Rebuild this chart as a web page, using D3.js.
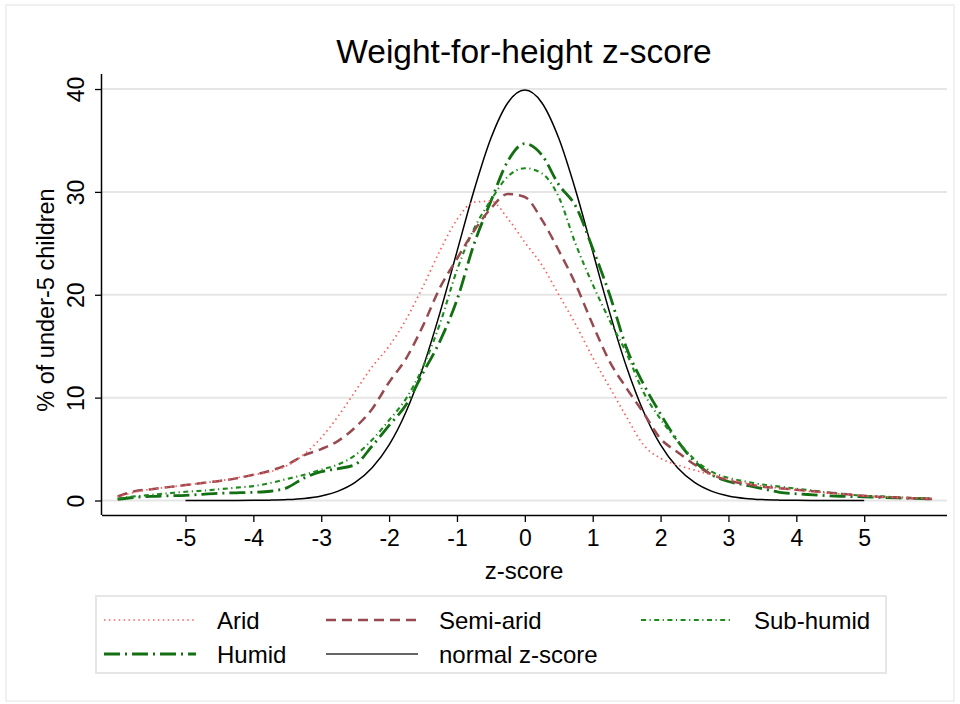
<!DOCTYPE html>
<html>
<head>
<meta charset="utf-8">
<script src="https://cdn.jsdelivr.net/npm/d3@7"></script>
<style>
  html, body { margin: 0; padding: 0; background: #fff; }
  svg { display: block; font-family: "Liberation Sans", Arial, Helvetica, sans-serif; }
</style>
</head>
<body>
<svg id="chart" width="960" height="704"></svg>
<script>
// ---------------- data ----------------
const zGrid = [-6, -5.75, -5.5, -5.25, -5, -4.75, -4.5, -4.25, -4, -3.75, -3.5, -3.25, -3, -2.75, -2.5, -2.25, -2, -1.75, -1.5, -1.25, -1, -0.75, -0.5, -0.25, 0, 0.25, 0.5, 0.75, 1, 1.25, 1.5, 1.75, 2, 2.25, 2.5, 2.75, 3, 3.25, 3.5, 3.75, 4, 4.25, 4.5, 4.75, 5, 5.25, 5.5, 5.75, 6];

const aridValues = [0.35, 0.8, 1.1, 1.3, 1.5, 1.7, 1.9, 2.2, 2.5, 2.8, 3.4, 4.5, 6.1, 8.2, 10.6, 13.0, 15.0, 17.6, 20.8, 24.3, 27.3, 29.0, 29.1, 27.4, 25.1, 22.9, 20.0, 17.1, 13.9, 11.0, 8.1, 5.4, 4.1, 3.45, 2.95, 2.5, 2.1, 1.7, 1.4, 1.2, 1.0, 0.85, 0.7, 0.6, 0.45, 0.35, 0.3, 0.25, 0.2];

const semiAridValues = [0.4, 0.9, 1.1, 1.3, 1.5, 1.7, 1.9, 2.15, 2.5, 2.9, 3.5, 4.4, 5.0, 5.8, 7.1, 8.9, 11.5, 13.8, 17.0, 20.7, 23.5, 26.2, 28.4, 29.8, 29.5, 27.3, 24.3, 21.0, 17.1, 13.5, 10.9, 8.5, 6.0, 4.7, 3.5, 2.55, 1.95, 1.6, 1.35, 1.2, 1.05, 0.9, 0.75, 0.6, 0.45, 0.35, 0.3, 0.2, 0.15];

const subHumidValues = [0.2, 0.4, 0.55, 0.7, 0.85, 0.95, 1.1, 1.25, 1.4, 1.7, 2.1, 2.5, 3.0, 3.5, 4.4, 5.9, 7.8, 9.9, 13.0, 17.2, 22.4, 26.4, 29.2, 31.5, 32.3, 31.8, 29.5, 24.9, 21.0, 17.5, 14.3, 10.5, 7.9, 5.8, 4.0, 2.8, 2.2, 1.85, 1.55, 1.35, 1.15, 0.95, 0.75, 0.6, 0.45, 0.4, 0.3, 0.25, 0.2];

const humidValues = [0.1, 0.3, 0.4, 0.45, 0.5, 0.6, 0.7, 0.75, 0.8, 0.9, 1.25, 2.2, 2.8, 3.1, 3.5, 5.3, 7.3, 9.3, 12.4, 15.5, 19.5, 24.9, 29.1, 33.0, 34.7, 33.6, 30.7, 28.6, 24.5, 20.0, 14.8, 11.3, 8.4, 5.8, 3.8, 2.5, 1.85, 1.5, 1.15, 0.8, 0.65, 0.55, 0.45, 0.4, 0.35, 0.3, 0.25, 0.2, 0.15];

const zNormal = [-5, -4.75, -4.5, -4.25, -4, -3.75, -3.5, -3.25, -3, -2.75, -2.5, -2.25, -2, -1.75, -1.5, -1.25, -1, -0.75, -0.5, -0.25, 0, 0.25, 0.5, 0.75, 1, 1.25, 1.5, 1.75, 2, 2.25, 2.5, 2.75, 3, 3.25, 3.5, 3.75, 4, 4.25, 4.5, 4.75, 5];
const normalValues = [0.0001, 0.0005, 0.002, 0.005, 0.013, 0.035, 0.087, 0.203, 0.443, 0.909, 1.753, 3.174, 5.399, 8.628, 12.952, 18.265, 24.197, 30.114, 35.207, 38.667, 39.894, 38.667, 35.207, 30.114, 24.197, 18.265, 12.952, 8.628, 5.399, 3.174, 1.753, 0.909, 0.443, 0.203, 0.087, 0.035, 0.013, 0.005, 0.002, 0.0005, 0.0001];

const xTickValues = [-5, -4, -3, -2, -1, 0, 1, 2, 3, 4, 5];
const yTickValues = [0, 10, 20, 30, 40];

const seriesNames = ["Arid", "Semi-arid", "Sub-humid", "Humid", "normal z-score"];

const titleText = "Weight-for-height z-score";
const xLabel = "z-score";
const yLabel = "% of under-5 children";

// ---------------- styles ----------------
const styles = {
  "Arid":           { color: "#ff5c5c", width: 1.7, dash: "1.5,3.4" },
  "Semi-arid":      { color: "#964a50", width: 2.5, dash: "10,6" },
  "Sub-humid":      { color: "#1b8a1b", width: 2.1, dash: "5,3.5,1.2,3.5" },
  "Humid":          { color: "#126f12", width: 2.8, dash: "16,5,2,5" },
  "normal z-score": { color: "#000000", width: 1.5, dash: null }
};

const series = [
  { name: "Arid", x: zGrid, y: aridValues },
  { name: "Semi-arid", x: zGrid, y: semiAridValues },
  { name: "Sub-humid", x: zGrid, y: subHumidValues },
  { name: "Humid", x: zGrid, y: humidValues },
  { name: "normal z-score", x: zNormal, y: normalValues }
];

// ---------------- layout ----------------
const svg = d3.select("#chart");
const plot = { left: 102, right: 947, top: 74, bottom: 515 };

const x = d3.scaleLinear().domain([-6.23, 6.22]).range([plot.left, plot.right]);
const y = d3.scaleLinear().domain([-1.41, 41.46]).range([plot.bottom, plot.top]);

// outer border
svg.append("rect")
  .attr("x", 6).attr("y", 5).attr("width", 948).attr("height", 696)
  .attr("fill", "#fff").attr("stroke", "#ececec").attr("stroke-width", 1.5);

// title
svg.append("text")
  .attr("x", 524).attr("y", 63)
  .attr("text-anchor", "middle")
  .attr("font-size", 33.5)
  .attr("fill", "#000")
  .text(titleText);

// gridlines
svg.append("g")
  .selectAll("line")
  .data(yTickValues)
  .join("line")
  .attr("x1", plot.left).attr("x2", plot.right)
  .attr("y1", d => y(d)).attr("y2", d => y(d))
  .attr("stroke", "#e6e6e6").attr("stroke-width", 2);

// curves
const line = d3.line()
  .x(d => x(d[0]))
  .y(d => y(d[1]))
  .curve(d3.curveMonotoneX);

const curvesG = svg.append("g");
series.slice().reverse().forEach(s => {
  const st = styles[s.name];
  const pts = s.x.map((xv, i) => [xv, s.y[i]]);
  curvesG.append("path")
    .datum(pts)
    .attr("d", line)
    .attr("fill", "none")
    .attr("stroke", st.color)
    .attr("stroke-width", st.width)
    .attr("stroke-dasharray", st.dash)
    .attr("stroke-linejoin", "round");
});

// x axis
const xAxis = d3.axisBottom(x).tickValues(xTickValues).tickSize(7).tickPadding(8)
  .tickFormat(d3.format("d"));
const gx = svg.append("g").attr("transform", `translate(0,${plot.bottom})`).call(xAxis);
gx.select(".domain").attr("d", `M${plot.left},0.5H${plot.right}`).attr("stroke", "#000").attr("stroke-width", 1.5);
gx.selectAll(".tick line").attr("stroke", "#000").attr("stroke-width", 1.3);
gx.selectAll(".tick text")
  .attr("font-size", 23).attr("fill", "#000")
  .attr("font-family", "'Liberation Sans', Arial, sans-serif")
  .text(d => d < 0 ? "-" + Math.abs(d) : d);

// y axis
const yAxis = d3.axisLeft(y).tickValues(yTickValues).tickSize(7).tickPadding(8);
const gy = svg.append("g").attr("transform", `translate(${plot.left},0)`).call(yAxis);
gy.select(".domain").attr("d", `M-0.5,${plot.top}V${plot.bottom}`).attr("stroke", "#000").attr("stroke-width", 1.5);
gy.selectAll(".tick line").attr("stroke", "#000").attr("stroke-width", 1.3);
gy.selectAll(".tick text")
  .attr("font-size", 23).attr("fill", "#000")
  .attr("font-family", "'Liberation Sans', Arial, sans-serif")
  .attr("text-anchor", "middle")
  .attr("dy", 0)
  .attr("x", 0)
  .attr("transform", "translate(-18,0) rotate(-90)");

// axis labels
svg.append("text")
  .attr("x", 524).attr("y", 579)
  .attr("text-anchor", "middle")
  .attr("font-size", 24)
  .text(xLabel);

svg.append("text")
  .attr("transform", "translate(54,300) rotate(-90)")
  .attr("text-anchor", "middle")
  .attr("font-size", 23.5)
  .text(yLabel);

// legend
const legend = svg.append("g");
legend.append("rect")
  .attr("x", 96).attr("y", 596).attr("width", 790).attr("height", 77)
  .attr("fill", "#fff").attr("stroke", "#e6e6e6").attr("stroke-width", 2);

const legendPos = {
  "Arid":           { x: 104, y: 620 },
  "Semi-arid":      { x: 326, y: 620 },
  "Sub-humid":      { x: 641, y: 620 },
  "Humid":          { x: 104, y: 654 },
  "normal z-score": { x: 326, y: 654 }
};
seriesNames.forEach(name => {
  const st = styles[name];
  const p = legendPos[name];
  legend.append("line")
    .attr("x1", p.x).attr("x2", p.x + 92)
    .attr("y1", p.y).attr("y2", p.y)
    .attr("stroke", name === "normal z-score" ? "#333" : st.color)
    .attr("stroke-width", st.width)
    .attr("stroke-dasharray", st.dash);
  legend.append("text")
    .attr("x", p.x + 113).attr("y", p.y + 8.5)
    .attr("font-size", 24)
    .text(name);
});
</script>
</body>
</html>
